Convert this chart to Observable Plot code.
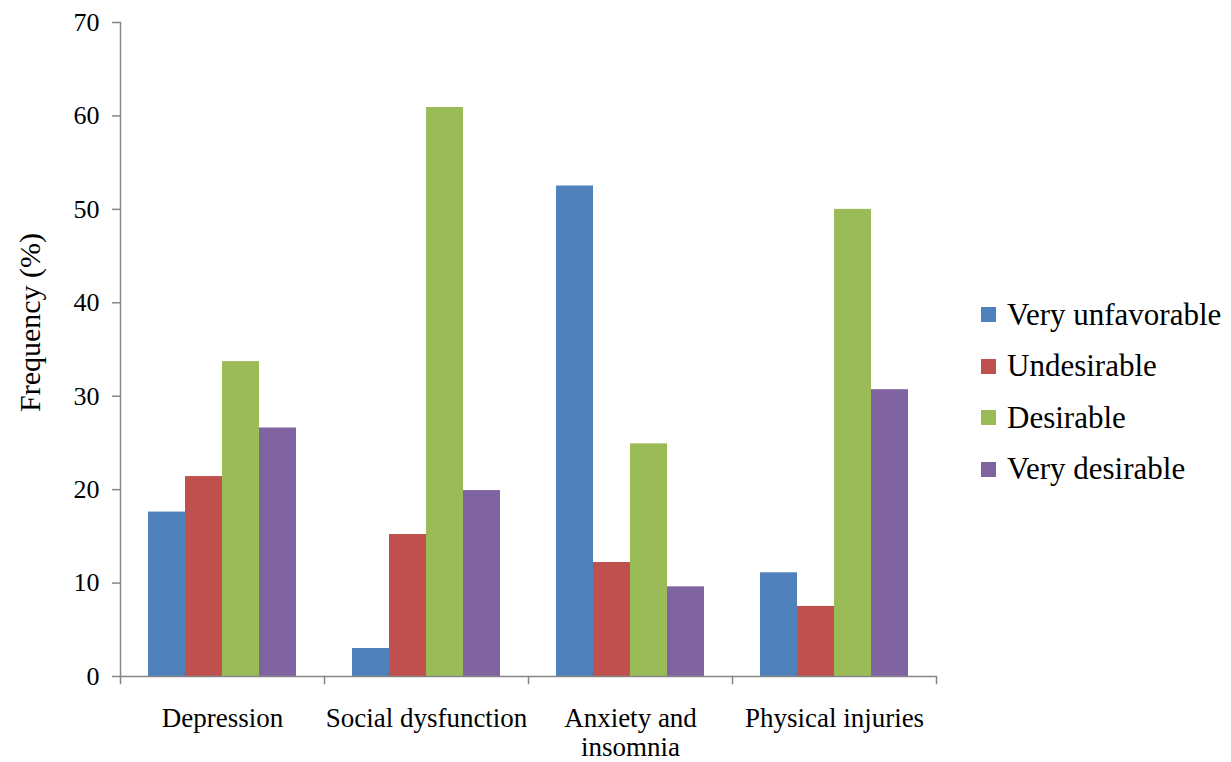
<!DOCTYPE html>
<html><head><meta charset="utf-8">
<script src="https://cdn.jsdelivr.net/npm/d3@7"></script>
<script src="https://cdn.jsdelivr.net/npm/@observablehq/plot@0.6"></script>
<style>
body{margin:0;background:#fff;font-family:"Liberation Serif","Times New Roman",serif}
#wrap{position:relative;width:1231px;height:762px;overflow:hidden}
#chart{position:absolute;left:0;top:0}
#legend{position:absolute;left:981px;top:289px}
.item{display:flex;align-items:center;height:51.5px;font-size:31px;color:#000;white-space:nowrap}
.sw{width:15px;height:15px;margin-right:11px;flex:none}
</style></head>
<body><div id="wrap"><div id="chart"></div><div id="legend"></div></div>
<script>
const categories = ["Depression", "Social dysfunction", "Anxiety and insomnia", "Physical injuries"];
const categoryLabels = ["Depression", "Social dysfunction", "Anxiety and\ninsomnia", "Physical injuries"];
const series = ["Very unfavorable", "Undesirable", "Desirable", "Very desirable"];
const veryUnfavorable = [17.6, 3.0, 52.5, 11.1];
const undesirable = [21.4, 15.2, 12.2, 7.5];
const desirable = [33.7, 60.9, 24.9, 50.0];
const veryDesirable = [26.6, 19.9, 9.6, 30.7];
const colors = ["#4F81BD", "#C0504D", "#9BBB59", "#8064A2"];
const yTicks = [0, 10, 20, 30, 40, 50, 60, 70];
const yLabel = "Frequency (%)";

const values = [veryUnfavorable, undesirable, desirable, veryDesirable];
const rows = [];
categories.forEach((c, i) => series.forEach((s, j) => rows.push({category: c, series: s, value: values[j][i]})));
const labelOf = new Map(categories.map((c, i) => [c, categoryLabels[i]]));

const H = 762, mt = 22, mb = 86, innerH = H - mt - mb;
const axisColor = "#868686";
const font = '"Liberation Serif","Times New Roman",serif';

const chart = Plot.plot({
  width: 960, height: H,
  marginLeft: 119, marginRight: 23, marginTop: mt, marginBottom: mb,
  style: {fontFamily: font, background: "white", color: "#000", overflow: "visible"},
  fx: {domain: categories, padding: 0, label: null},
  x: {domain: series, paddingInner: 0, paddingOuter: 0.75, axis: null},
  y: {domain: [0, 70], label: null},
  color: {domain: series, range: colors},
  marks: [
    Plot.barY(rows, {fx: "category", x: "series", y: "value", fill: "series"}),
    Plot.ruleY([0], {stroke: axisColor, strokeWidth: 1.5}),
    Plot.frame({anchor: "left", insetTop: innerH, insetBottom: -7, stroke: axisColor, strokeWidth: 1.5}),
    Plot.frame({anchor: "right", facetAnchor: "right", insetTop: innerH, insetBottom: -7, stroke: axisColor, strokeWidth: 1.5}),
    Plot.frame({anchor: "left", facetAnchor: "left", stroke: axisColor, strokeWidth: 1.5}),
    Plot.axisY({ticks: yTicks, tickSize: 8, tickPadding: 13, fontSize: 26, stroke: axisColor, strokeWidth: 1.5, label: null}),
    Plot.axisFx({anchor: "bottom", tickSize: 0, tickPadding: 30, fontSize: 27, lineHeight: 1.07, tickFormat: d => labelOf.get(d), label: null}),
    Plot.text([yLabel], {frameAnchor: "left", facetAnchor: "left", textAnchor: "middle", rotate: -90, dx: -90, dy: -27, fontSize: 30, fill: "#000"})
  ]
});
document.getElementById("chart").appendChild(chart);

const legend = document.getElementById("legend");
series.forEach((s, i) => {
  const item = document.createElement("div");
  item.className = "item";
  const sw = document.createElement("span");
  sw.className = "sw";
  sw.style.background = colors[i];
  const t = document.createElement("span");
  t.textContent = s;
  item.appendChild(sw); item.appendChild(t);
  legend.appendChild(item);
});
</script>
</body></html>
